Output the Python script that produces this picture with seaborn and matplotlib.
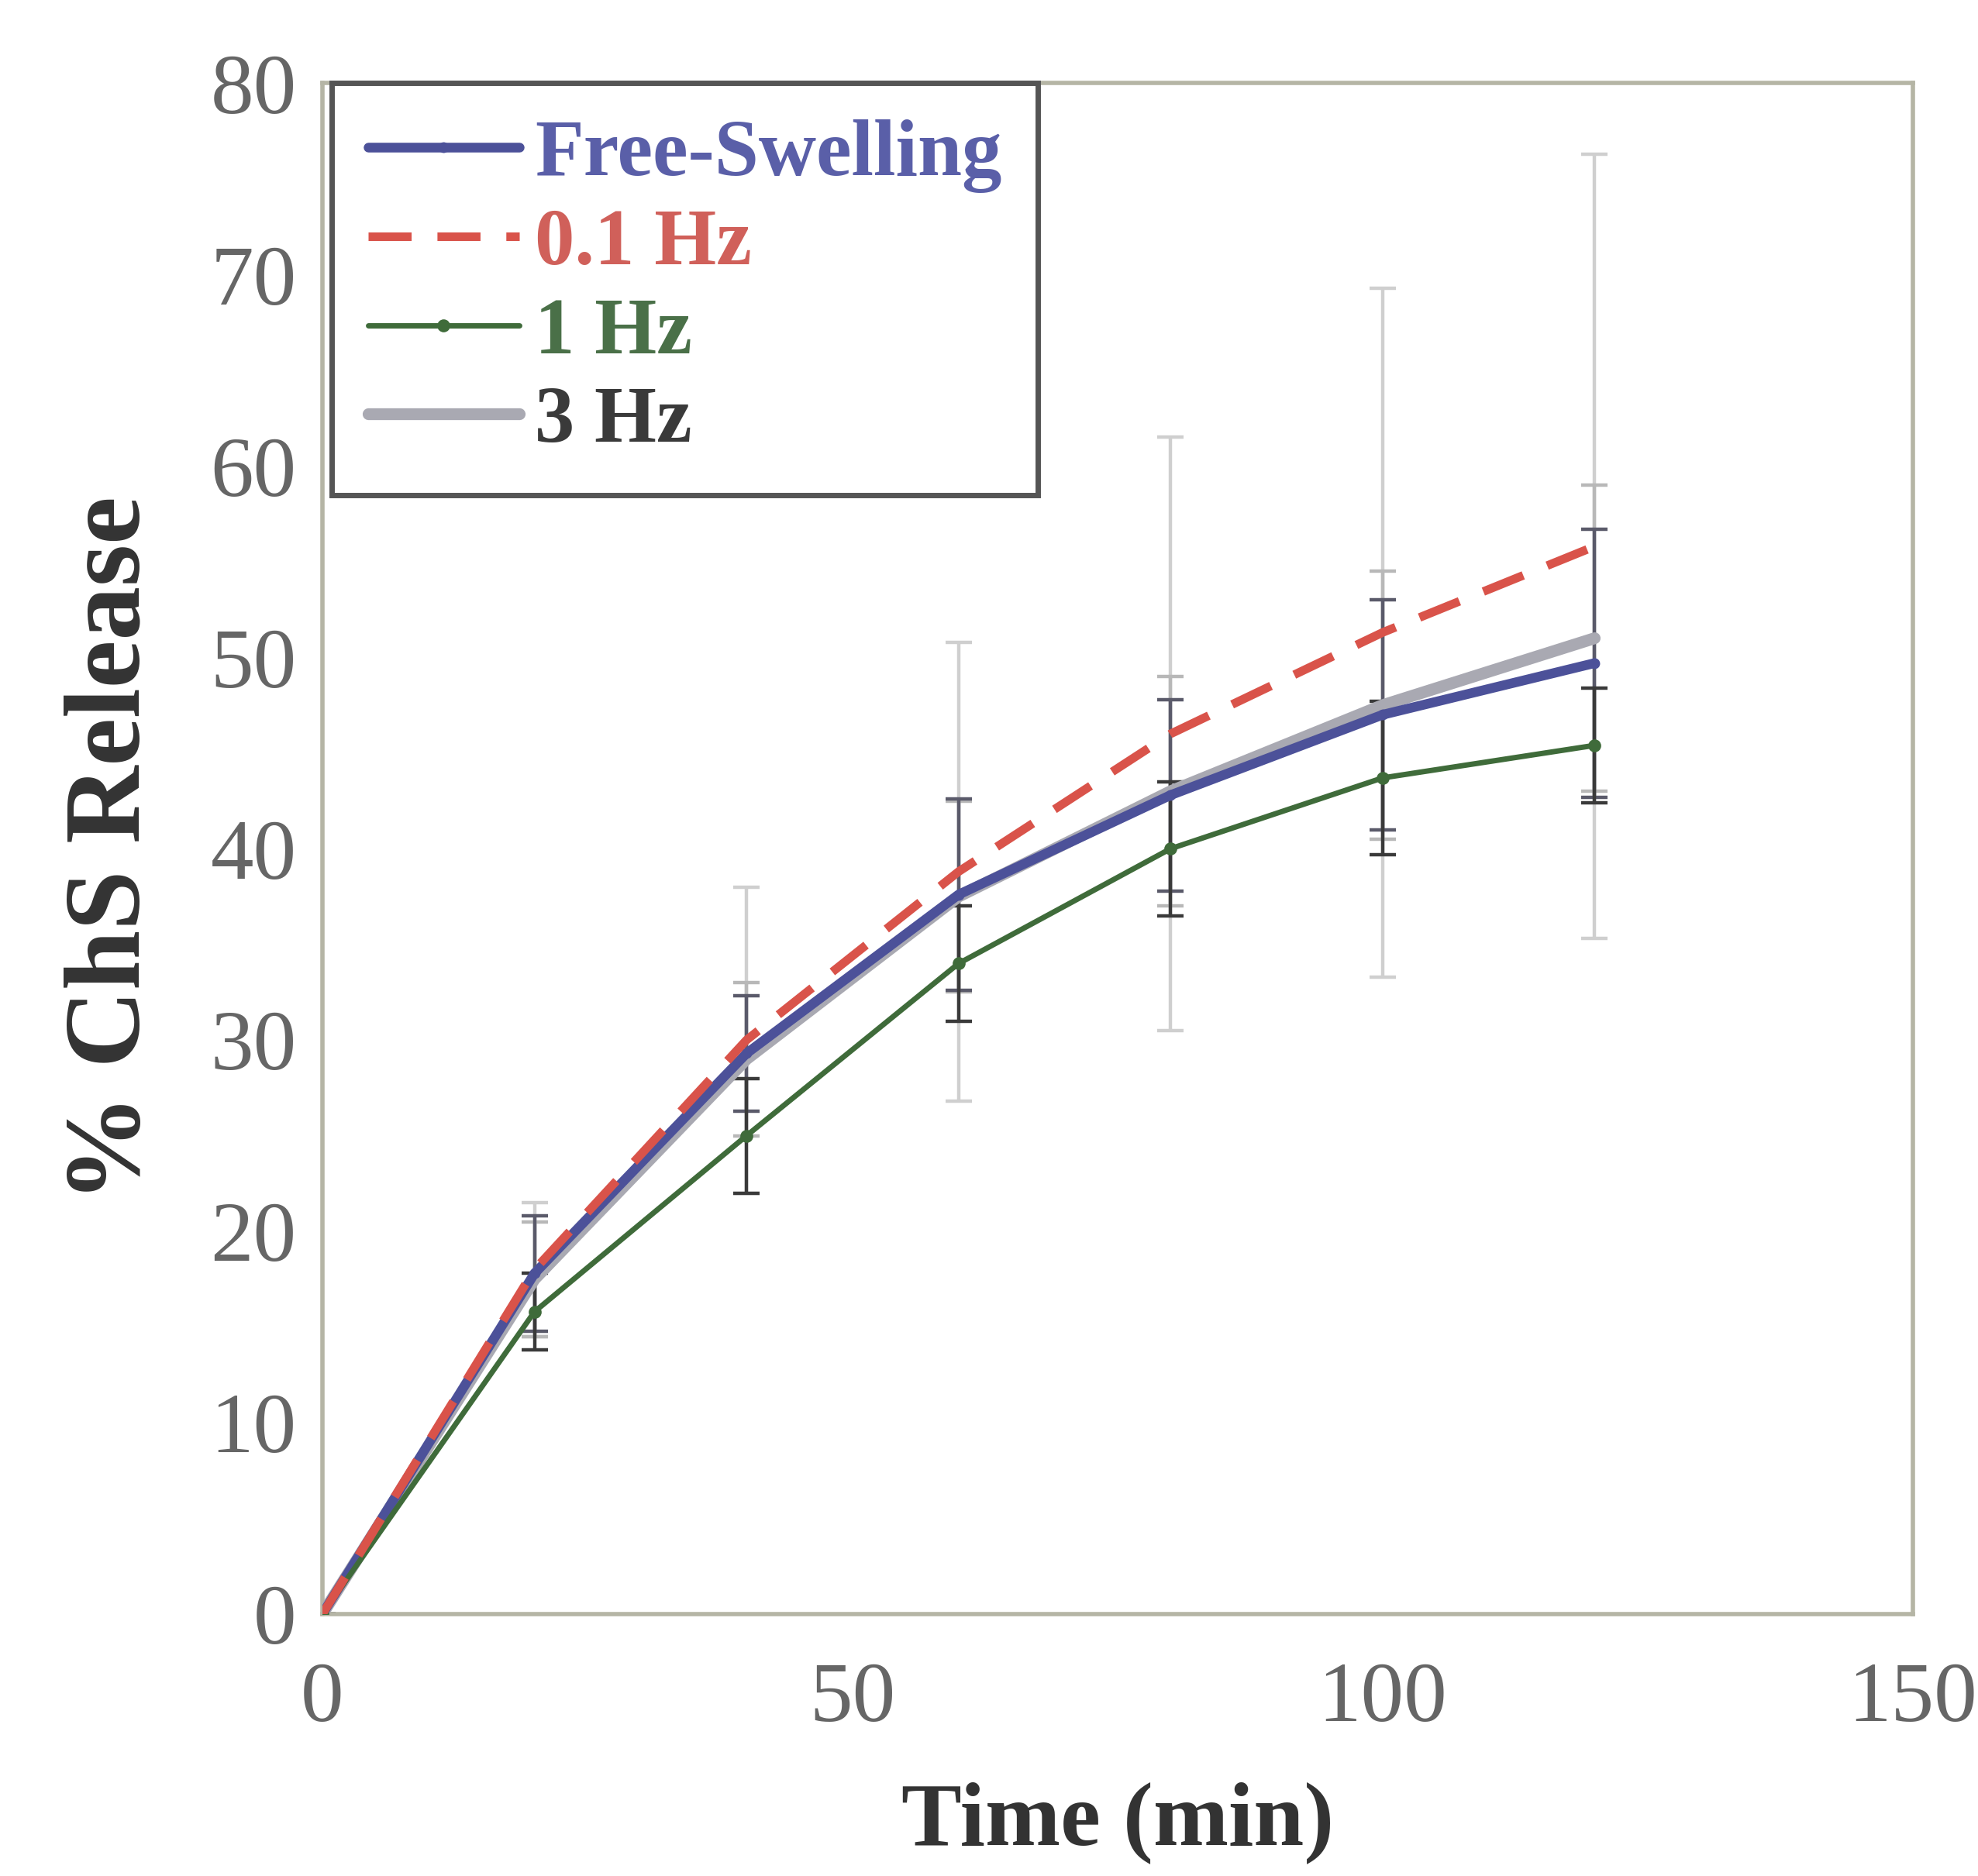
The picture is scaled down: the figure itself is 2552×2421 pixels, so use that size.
import matplotlib
matplotlib.use("Agg")
import matplotlib.pyplot as plt
import numpy as np
import pandas as pd
import seaborn as sns

# time points (min)
time = [0, 20, 40, 60, 80, 100, 120]

free_swelling = [0, 17.8, 29.3, 37.6, 42.8, 47.0, 49.7]
hz_01 = [0, 18.0, 30.0, 38.8, 46.0, 51.3, 55.8]
hz_1 = [0, 15.8, 25.0, 34.0, 40.0, 43.7, 45.4]
hz_3 = [0, 17.5, 29.0, 37.5, 43.0, 47.5, 51.0]

err_free = [0, 3.0, 3.0, 5.0, 5.0, 6.0, 7.0]
err_01 = [0, 3.5, 8.0, 12.0, 15.5, 18.0, 20.5]
err_1 = [0, 2.0, 3.0, 3.0, 3.5, 4.0, 3.0]
err_3 = [0, 3.0, 4.0, 5.0, 6.0, 7.0, 8.0]

labels = ["Free-Swelling", "0.1 Hz", "1 Hz", "3 Hz"]
colors = {"Free-Swelling": "#4c5199", "0.1 Hz": "#d9534a", "1 Hz": "#3f6b3a", "3 Hz": "#a9a9b2"}
text_colors = {"Free-Swelling": "#5a5fa8", "0.1 Hz": "#d0605a", "1 Hz": "#4a7048", "3 Hz": "#3a3a3a"}

series = {"Free-Swelling": (free_swelling, err_free),
          "0.1 Hz": (hz_01, err_01),
          "1 Hz": (hz_1, err_1),
          "3 Hz": (hz_3, err_3)}

frames = []
for name, (vals, errs) in series.items():
    frames.append(pd.DataFrame({"Time": time, "Release": vals, "err": errs, "Group": name}))
df = pd.concat(frames, ignore_index=True)

sns.set_style("white")
plt.rcParams["font.family"] = ["Liberation Serif", "DejaVu Serif"]

fig = plt.figure(figsize=(12.76, 12.105), dpi=200)
ax = fig.add_axes([0.163, 0.1396, 0.804, 0.816])

# error bars first
ecols = {"Free-Swelling": "#5a5a6a", "0.1 Hz": "#cfcfcf", "1 Hz": "#3a3a3a", "3 Hz": "#b8b8b8"}
for name in ["0.1 Hz", "3 Hz", "Free-Swelling", "1 Hz"]:
    d = df[df["Group"] == name]
    ax.errorbar(d["Time"], d["Release"], yerr=d["err"], fmt="none",
                ecolor=ecols[name], elinewidth=1.6, capsize=6, capthick=1.6, zorder=1)

styles = {
    "3 Hz": dict(linewidth=5.5, linestyle="-", marker=None),
    "Free-Swelling": dict(linewidth=4.5, linestyle="-", marker="o", markersize=5),
    "1 Hz": dict(linewidth=2.5, linestyle="-", marker="o", markersize=6),
    "0.1 Hz": dict(linewidth=4.0, linestyle=(0, (5, 3)), marker=None),
}
for name in ["3 Hz", "Free-Swelling", "1 Hz", "0.1 Hz"]:
    d = df[df["Group"] == name]
    st = styles[name]
    sns.lineplot(data=d, x="Time", y="Release", ax=ax, color=colors[name],
                 linewidth=st["linewidth"], linestyle=st["linestyle"],
                 marker=st["marker"], markersize=st.get("markersize", 0),
                 markeredgewidth=0, label=name, zorder=3)

ax.set_xlim(0, 150)
ax.set_ylim(0, 80)
ax.set_xticks([0, 50, 100, 150])
ax.set_yticks(range(0, 81, 10))
ax.tick_params(axis="both", labelsize=40, colors="#666666", length=0)
ax.tick_params(axis="x", pad=22)
ax.tick_params(axis="y", pad=12)
ax.set_xlabel("Time (min)", fontsize=42, fontweight="bold", color="#333333", labelpad=20)
ax.set_ylabel("% ChS Release", fontsize=50, fontweight="bold", color="#333333", labelpad=22)
for sp in ax.spines.values():
    sp.set_color("#b5b5a5")
    sp.set_linewidth(2)

handles, lbls = ax.get_legend_handles_labels()
order = [lbls.index(l) for l in labels]
leg = ax.legend([handles[i] for i in order], [lbls[i] for i in order],
                loc="upper left", bbox_to_anchor=(0.006, 1.0), borderaxespad=0,
                frameon=True, fancybox=False,
                edgecolor="#555555", framealpha=1, handlelength=1.9, handletextpad=0.2,
                labelspacing=0.2, borderpad=0.45,
                prop={"family": ["Liberation Serif"], "weight": "bold", "size": 37})
for txt in leg.get_texts():
    txt.set_color(text_colors[txt.get_text()])
leg.get_frame().set_linewidth(2.5)

fig.savefig("out.png", dpi=200)
